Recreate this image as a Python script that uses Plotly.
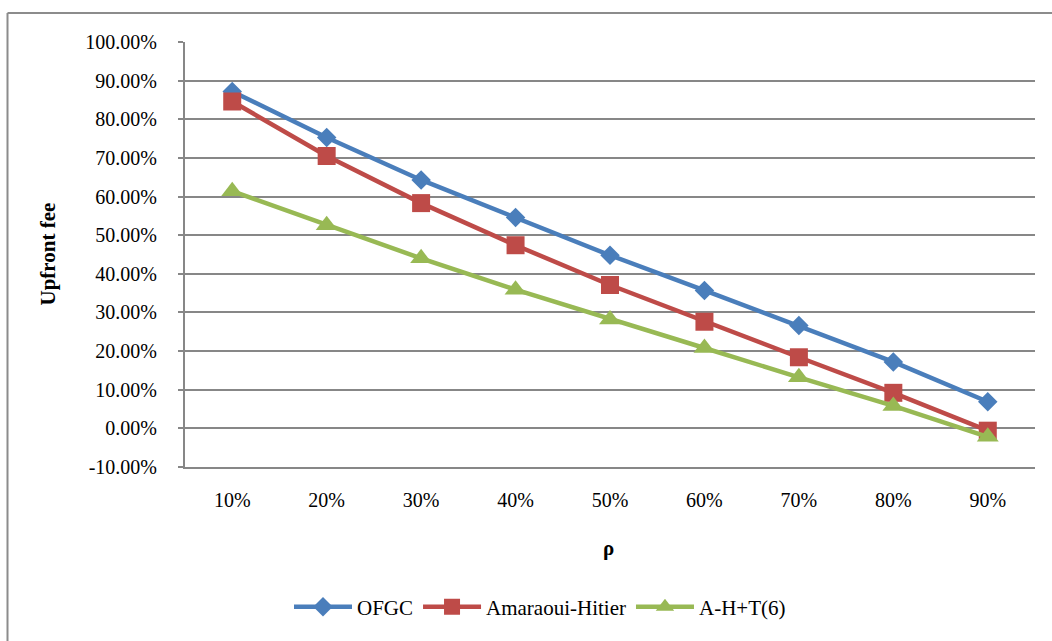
import plotly.graph_objects as go

categories = ["10%", "20%", "30%", "40%", "50%", "60%", "70%", "80%", "90%"]
ofgc = [0.872, 0.753, 0.643, 0.546, 0.448, 0.357, 0.266, 0.172, 0.069]
amaraoui_hitier = [0.846, 0.705, 0.583, 0.474, 0.371, 0.276, 0.184, 0.092, -0.006]
ah_t6 = [0.614, 0.526, 0.440, 0.359, 0.282, 0.208, 0.132, 0.058, -0.022]

y_tick_values = [-0.1, 0.0, 0.1, 0.2, 0.3, 0.4, 0.5, 0.6, 0.7, 0.8, 0.9, 1.0]
y_tick_labels = ["-10.00%", "0.00%", "10.00%", "20.00%", "30.00%", "40.00%",
                 "50.00%", "60.00%", "70.00%", "80.00%", "90.00%", "100.00%"]

FONT = "Liberation Serif, Times New Roman, serif"
GRID = "#878787"

fig = go.Figure()
fig.add_trace(go.Scatter(x=categories, y=ofgc, name="OFGC", mode="lines+markers",
                         line=dict(color="#4A7EBB", width=4.5),
                         marker=dict(symbol="diamond", size=15, color="#4A7EBB")))
fig.add_trace(go.Scatter(x=categories, y=amaraoui_hitier, name="Amaraoui-Hitier", mode="lines+markers",
                         line=dict(color="#BE4B48", width=4.5),
                         marker=dict(symbol="square", size=18, color="#BE4B48")))
fig.add_trace(go.Scatter(x=categories, y=ah_t6, name="A-H+T(6)", mode="lines+markers",
                         line=dict(color="#98B954", width=4.5),
                         marker=dict(symbol="triangle-up", size=19, color="#98B954")))

l, r, t, b = 185, 17, 42, 174
W, H = 1052, 641
pw, ph = W - l - r, H - t - b

def px(x):
    return (x - l) / pw

def py(y):
    return (H - b - y) / ph

fig.update_layout(
    width=W, height=H,
    margin=dict(l=l, r=r, t=t, b=b),
    paper_bgcolor="white", plot_bgcolor="white",
    font=dict(family=FONT, size=20, color="black"),
    showlegend=True,
    legend=dict(orientation="h", x=px(540), y=py(607), xanchor="center", yanchor="middle",
                font=dict(family=FONT, size=21), itemwidth=58, traceorder="normal",
                tracegroupgap=0),
    xaxis=dict(type="category", range=[-0.5, 8.5], showgrid=False, showline=True,
               linecolor=GRID, linewidth=2, ticks="", ticklabelstandoff=14,
               tickfont=dict(family=FONT, size=20), zeroline=False),
    yaxis=dict(range=[-0.1, 1.0], tickmode="array", tickvals=y_tick_values, ticktext=y_tick_labels,
               showgrid=True, gridcolor=GRID, gridwidth=1.5,
               showline=True, linecolor=GRID, linewidth=2,
               ticks="outside", ticklen=5, tickcolor=GRID, tickwidth=1.5,
               ticklabelstandoff=17, tickfont=dict(family=FONT, size=20), zeroline=False),
    annotations=[
        dict(text="<b>Upfront fee</b>", xref="paper", yref="paper", x=px(47), y=0.5,
             textangle=-90, showarrow=False, font=dict(family=FONT, size=21),
             xanchor="center", yanchor="middle"),
        dict(text="<b>ρ</b>", xref="paper", yref="paper", x=px(608), y=py(548),
             showarrow=False, font=dict(family=FONT, size=21),
             xanchor="center", yanchor="middle"),
    ],
    shapes=[
        dict(type="line", xref="paper", yref="paper", x0=px(7.5), x1=px(7.5),
             y0=py(13), y1=py(700), line=dict(color="#8c8c8c", width=2)),
        dict(type="line", xref="paper", yref="paper", x0=px(7.5), x1=px(1060),
             y0=py(13), y1=py(13), line=dict(color="#8c8c8c", width=2)),
    ],
)

fig.write_html("out.html")
